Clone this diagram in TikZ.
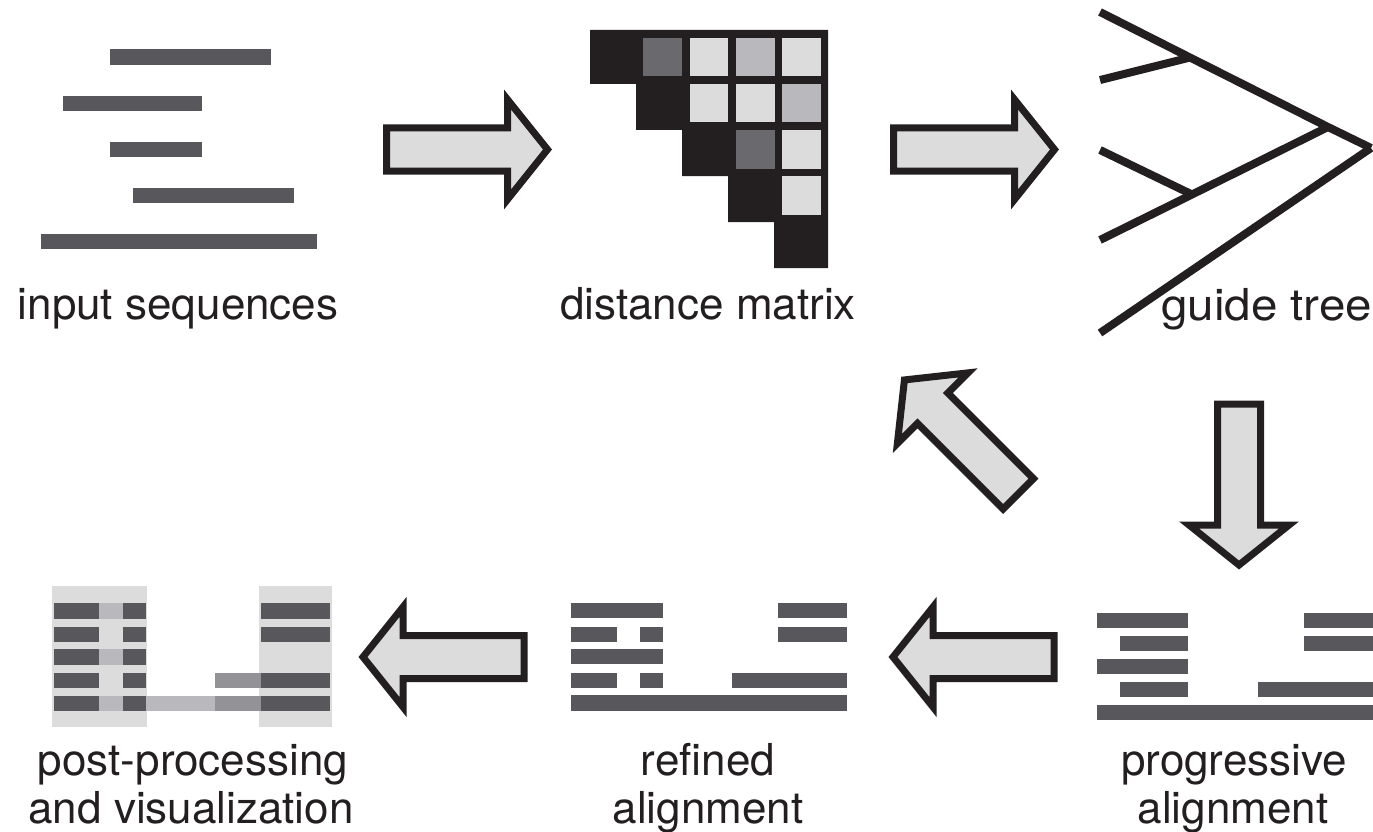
\documentclass[tikz,border=0pt]{standalone}
\usepackage{fontspec}
\setmainfont{TeX Gyre Heros}
\definecolor{ink}{HTML}{231F20}
\definecolor{seqc}{HTML}{58575C}
\definecolor{lightc}{HTML}{DCDCDC}
\definecolor{midc}{HTML}{B9B8BD}
\definecolor{darkc}{HTML}{6A696D}
\definecolor{medc}{HTML}{939296}
\newcommand\blockarr[3]{%
  \begin{scope}[shift={(#1,#2)}, rotate=#3]
    \draw[blockarrow] (-81,-21.5) -- (40,-21.5) -- (40,-50) -- (80,0) -- (40,50) -- (40,21.5) -- (-81,21.5) -- cycle;
  \end{scope}}
\begin{document}
\begin{tikzpicture}[x=1pt,y=-1pt,
  seq/.style={fill=seqc},
  blockarrow/.style={draw=ink, fill=lightc, line width=7pt, line join=miter, miter limit=10},
  lbl/.style={font=\fontsize{44}{48}\selectfont, text=ink, anchor=base, inner sep=0pt},
  treeline/.style={draw=ink, line width=8pt}]
\useasboundingbox (0,0) rectangle (1373,832);

% ---------- input sequences ----------
\fill[seq] (110,49) rectangle (271,65);
\fill[seq] (63,96) rectangle (202,111);
\fill[seq] (110,142) rectangle (202,157);
\fill[seq] (133,188) rectangle (294,203);
\fill[seq] (41,234) rectangle (317,249);
\node[lbl] (inlbl) at (178,319) {input sequences};

% ---------- distance matrix ----------
\fill[ink] (590,30) -- (590,84) -- (636,84) -- (636,130) -- (682,130) -- (682,176)
  -- (728,176) -- (728,222) -- (774,222) -- (774,268) -- (828,268) -- (828,30) -- cycle;
\fill[darkc]  (643,38) rectangle ++(38.5,38.5);
\fill[lightc] (689.5,38) rectangle ++(38.5,38.5);
\fill[midc]   (736,38) rectangle ++(38.5,38.5);
\fill[lightc] (782,38) rectangle ++(38.5,38.5);
\fill[lightc] (689.5,84) rectangle ++(38.5,38.5);
\fill[lightc] (736,84) rectangle ++(38.5,38.5);
\fill[midc]   (782,84) rectangle ++(38.5,38.5);
\fill[darkc]  (736,130) rectangle ++(38.5,38.5);
\fill[lightc] (782,130) rectangle ++(38.5,38.5);
\fill[lightc] (782,176) rectangle ++(38.5,38.5);
\node[lbl] (dmlbl) at (708,319) {distance matrix};

% ---------- guide tree ----------
\coordinate (root) at (1371,148);
\coordinate (na) at (1190,57.5);
\coordinate (nb) at (1328,127);
\coordinate (nc) at (1192,194.5);
\coordinate (l1) at (1100,12);
\coordinate (l2) at (1100,80);
\coordinate (l3) at (1100,150);
\coordinate (l4) at (1100,240);
\coordinate (l5) at (1100,333);
\draw[treeline] (l1) -- (na) -- (nb) -- (root);
\draw[treeline] (l2) -- (na);
\draw[treeline] (l3) -- (nc);
\draw[treeline] (l4) -- (nc) -- (nb);
\draw[treeline] (l5) -- (root);
\node[lbl, anchor=base west, xscale=1.08] (gtlbl) at (1161,320) {guide tree};

% ---------- progressive alignment ----------
\fill[seq] (1097,613) rectangle (1188,627.5);
\fill[seq] (1304,613) rectangle (1380,627.5);
\fill[seq] (1120,636) rectangle (1188,650.5);
\fill[seq] (1304,636) rectangle (1380,650.5);
\fill[seq] (1097,659) rectangle (1188,673.5);
\fill[seq] (1120,682) rectangle (1188,696.5);
\fill[seq] (1258,682) rectangle (1380,696.5);
\fill[seq] (1097,705) rectangle (1380,720);
\node[lbl] (pa1) at (1234,775) {progressive};
\node[lbl] (pa2) at (1233,823) {alignment};

% ---------- refined alignment ----------
\fill[seq] (571,603) rectangle (663,618);
\fill[seq] (778,603) rectangle (847,618);
\fill[seq] (571,627) rectangle (617,642);
\fill[seq] (640,627) rectangle (663,642);
\fill[seq] (778,627) rectangle (847,642);
\fill[seq] (571,649) rectangle (663,664);
\fill[seq] (571,673) rectangle (617,688);
\fill[seq] (640,673) rectangle (663,688);
\fill[seq] (732,673) rectangle (847,688);
\fill[seq] (571,695) rectangle (847,711);
\node[lbl] (ra1) at (708,775) {refined};
\node[lbl] (ra2) at (708,823) {alignment};

% ---------- post-processing ----------
\fill[lightc] (52,586) rectangle (147,727);
\fill[lightc] (259,586) rectangle (332,727);
% row 1
\fill[seq] (54,603) rectangle (99,619);
\fill[midc] (99,603) rectangle (123,619);
\fill[seq] (123,603) rectangle (146,619);
\fill[seq] (261,603) rectangle (330,619);
% row 2
\fill[seq] (54,627) rectangle (99,642);
\fill[seq] (123,627) rectangle (146,642);
\fill[seq] (261,627) rectangle (330,642);
% row 3
\fill[seq] (54,649) rectangle (99,665);
\fill[midc] (99,649) rectangle (123,665);
\fill[seq] (123,649) rectangle (146,665);
% row 4
\fill[seq] (54,673) rectangle (99,688);
\fill[seq] (123,673) rectangle (146,688);
\fill[medc] (215,673) rectangle (261,688);
\fill[seq] (261,673) rectangle (330,688);
% row 5
\fill[seq] (54,696) rectangle (99,711);
\fill[midc] (99,696) rectangle (123,711);
\fill[seq] (123,696) rectangle (146,711);
\fill[midc] (146,696) rectangle (215,711);
\fill[medc] (215,696) rectangle (261,711);
\fill[seq] (261,696) rectangle (330,711);
\node[lbl] (pp1) at (193,775) {post-processing};
\node[lbl] (pp2) at (191,823) {and visualization};

% ---------- block arrows ----------
\blockarr{467.5}{149.5}{0}
\blockarr{974.5}{149.5}{0}
\blockarr{1239}{485}{-90}
\blockarr{961}{436.5}{135}
\blockarr{973}{657}{180}
\blockarr{443}{657}{180}
\end{tikzpicture}
\end{document}
